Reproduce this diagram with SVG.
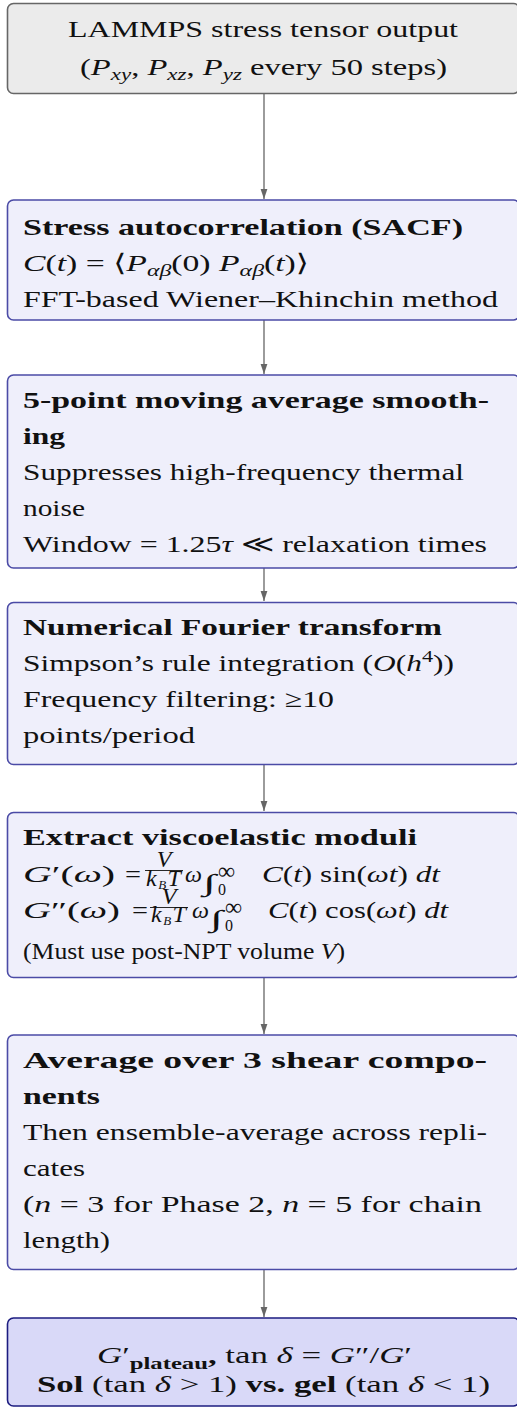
<svg xmlns="http://www.w3.org/2000/svg" width="517" height="1408" viewBox="0 0 517 1408">
<style>
text{font-family:"Liberation Serif","DejaVu Serif",serif;font-size:24px;fill:#111}
.b{font-weight:bold}
.i{font-style:italic}
.s{font-size:17px}
.box{fill:#efeffb;stroke:#4b4ba6;stroke-width:1.6}
.start{fill:#ebebeb;stroke:#666;stroke-width:1.6}
.end{fill:#d9d9f8;stroke:#1c1c80;stroke-width:1.6}
.edge{stroke:#666;stroke-width:1.3;fill:none}
.bar{stroke:#111;stroke-width:0.9}
</style>
<defs>
<marker id="ah" markerWidth="10" markerHeight="8" refX="10" refY="4" orient="auto" markerUnits="userSpaceOnUse">
<path d="M0,0.6 L10,4 L0,7.4 Z" fill="#666"/>
</marker>
</defs>
<g id="connectors">
<line class="edge" x1="264" y1="94" x2="264" y2="199" marker-end="url(#ah)"/>
<line class="edge" x1="264" y1="320" x2="264" y2="374" marker-end="url(#ah)"/>
<line class="edge" x1="264" y1="568" x2="264" y2="601" marker-end="url(#ah)"/>
<line class="edge" x1="264" y1="765" x2="264" y2="811" marker-end="url(#ah)"/>
<line class="edge" x1="264" y1="978" x2="264" y2="1034" marker-end="url(#ah)"/>
<line class="edge" x1="264" y1="1270" x2="264" y2="1317" marker-end="url(#ah)"/>
</g>
<g id="n1">
<rect class="start" x="7.5" y="3.5" width="512" height="90" rx="6"/>
<text x="68" y="37" textLength="390" lengthAdjust="spacingAndGlyphs">LAMMPS stress tensor output</text>
<text x="80" y="75" textLength="367" lengthAdjust="spacingAndGlyphs">(<tspan class="i">P</tspan><tspan class="i s" dy="5">xy</tspan><tspan dy="-5">, </tspan><tspan class="i">P</tspan><tspan class="i s" dy="5">xz</tspan><tspan dy="-5">, </tspan><tspan class="i">P</tspan><tspan class="i s" dy="5">yz</tspan><tspan dy="-5"> every 50 steps)</tspan></text>
</g>
<g id="n2">
<rect class="box" x="7.5" y="200" width="512" height="120" rx="6"/>
<text class="b" x="23" y="235" textLength="440" lengthAdjust="spacingAndGlyphs">Stress autocorrelation (SACF)</text>
<text x="23" y="271" textLength="286" lengthAdjust="spacingAndGlyphs"><tspan class="i">C</tspan>(<tspan class="i">t</tspan>) = ⟨<tspan class="i">P</tspan><tspan class="i s" dy="5">αβ</tspan><tspan dy="-5">(0) </tspan><tspan class="i">P</tspan><tspan class="i s" dy="5">αβ</tspan><tspan dy="-5">(</tspan><tspan class="i">t</tspan>)⟩</text>
<text x="23" y="307" textLength="475" lengthAdjust="spacingAndGlyphs">FFT-based Wiener–Khinchin method</text>
</g>
<g id="n3">
<rect class="box" x="7.5" y="375" width="512" height="193" rx="6"/>
<text class="b" x="23" y="408" textLength="466" lengthAdjust="spacingAndGlyphs">5-point moving average smooth-</text>
<text class="b" x="23" y="444" textLength="42" lengthAdjust="spacingAndGlyphs">ing</text>
<text x="23" y="480" textLength="441" lengthAdjust="spacingAndGlyphs">Suppresses high-frequency thermal</text>
<text x="23" y="516" textLength="62" lengthAdjust="spacingAndGlyphs">noise</text>
<text x="23" y="552" textLength="464" lengthAdjust="spacingAndGlyphs">Window = 1.25<tspan class="i">τ</tspan> ≪ relaxation times</text>
</g>
<g id="n4">
<rect class="box" x="7.5" y="602.5" width="512" height="162" rx="6"/>
<text class="b" x="23" y="635" textLength="419" lengthAdjust="spacingAndGlyphs">Numerical Fourier transform</text>
<text x="23" y="671" textLength="431" lengthAdjust="spacingAndGlyphs">Simpson’s rule integration (<tspan class="i">O</tspan>(<tspan class="i">h</tspan><tspan class="s" dy="-9">4</tspan><tspan dy="9">))</tspan></text>
<text x="23" y="707" textLength="311" lengthAdjust="spacingAndGlyphs">Frequency filtering: ≥10</text>
<text x="23" y="743" textLength="172" lengthAdjust="spacingAndGlyphs">points/period</text>
</g>
<g id="n5">
<rect class="box" x="7.5" y="812.5" width="512" height="165" rx="6"/>
<text class="b" x="23" y="845" textLength="394" lengthAdjust="spacingAndGlyphs">Extract viscoelastic moduli</text>
<text x="23" y="882" textLength="92" lengthAdjust="spacingAndGlyphs"><tspan class="i">G</tspan>′(<tspan class="i">ω</tspan>)</text>
<text x="125" y="882" textLength="16" lengthAdjust="spacingAndGlyphs">=</text>
<text font-size="20"><tspan class="i" x="164" y="867" text-anchor="middle">V</tspan><tspan class="i" x="146" y="886" letter-spacing="1.5">k</tspan><tspan class="i" font-size="13" dy="3" letter-spacing="1.5">B</tspan><tspan class="i" dy="-3">T</tspan><tspan class="i" x="169" y="904" text-anchor="middle">V</tspan><tspan class="i" x="151" y="922" letter-spacing="1.5">k</tspan><tspan class="i" font-size="13" dy="3" letter-spacing="1.5">B</tspan><tspan class="i" dy="-3">T</tspan></text>
<line class="bar" x1="145" y1="870.5" x2="183" y2="870.5"/>
<text class="i" x="185" y="882">ω</text>
<text x="203" y="891" font-size="40" textLength="13" lengthAdjust="spacingAndGlyphs">∫</text>
<text font-size="20"><tspan x="218" y="879">∞</tspan><tspan x="218" y="895" font-size="16">0</tspan></text>
<text x="262" y="882" textLength="178" lengthAdjust="spacingAndGlyphs"><tspan class="i">C</tspan>(<tspan class="i">t</tspan>) sin(<tspan class="i">ωt</tspan>) <tspan class="i">dt</tspan></text>
<text x="23" y="918" textLength="97" lengthAdjust="spacingAndGlyphs"><tspan class="i">G</tspan>″(<tspan class="i">ω</tspan>)</text>
<text x="132" y="918" textLength="16" lengthAdjust="spacingAndGlyphs">=</text>
<line class="bar" x1="150" y1="907.5" x2="188" y2="907.5"/>
<text class="i" x="192" y="918">ω</text>
<text x="210" y="927" font-size="40" textLength="13" lengthAdjust="spacingAndGlyphs">∫</text>
<text font-size="20"><tspan x="225" y="915">∞</tspan><tspan x="225" y="931" font-size="16">0</tspan></text>
<text x="268" y="918" textLength="180" lengthAdjust="spacingAndGlyphs"><tspan class="i">C</tspan>(<tspan class="i">t</tspan>) cos(<tspan class="i">ωt</tspan>) <tspan class="i">dt</tspan></text>
<text x="23" y="959" font-size="17" textLength="322" lengthAdjust="spacingAndGlyphs">(Must use post-NPT volume <tspan class="i">V</tspan>)</text>
</g>
<g id="n6">
<rect class="box" x="7.5" y="1035" width="512" height="234.5" rx="6"/>
<text class="b" x="23" y="1068" textLength="464" lengthAdjust="spacingAndGlyphs">Average over 3 shear compo-</text>
<text class="b" x="23" y="1104" textLength="77" lengthAdjust="spacingAndGlyphs">nents</text>
<text x="23" y="1140" textLength="464" lengthAdjust="spacingAndGlyphs">Then ensemble-average across repli-</text>
<text x="23" y="1176" textLength="62" lengthAdjust="spacingAndGlyphs">cates</text>
<text x="23" y="1212" textLength="459" lengthAdjust="spacingAndGlyphs">(<tspan class="i">n</tspan> = 3 for Phase 2, <tspan class="i">n</tspan> = 5 for chain</text>
<text x="23" y="1248" textLength="87" lengthAdjust="spacingAndGlyphs">length)</text>
</g>
<g id="n7">
<rect class="end" x="7.5" y="1318" width="512" height="88" rx="6"/>
<text x="97" y="1363" textLength="315" lengthAdjust="spacingAndGlyphs"><tspan class="i">G</tspan>′<tspan class="b s" dy="6">plateau</tspan><tspan class="b" dy="-6">,</tspan> tan <tspan class="i">δ</tspan>  =  <tspan class="i">G</tspan>″/<tspan class="i">G</tspan>′</text>
<text x="37" y="1392" textLength="453" lengthAdjust="spacingAndGlyphs"><tspan class="b">Sol</tspan> (tan <tspan class="i">δ</tspan> &gt; 1) <tspan class="b">vs. gel</tspan> (tan <tspan class="i">δ</tspan> &lt; 1)</text>
</g>
</svg>
